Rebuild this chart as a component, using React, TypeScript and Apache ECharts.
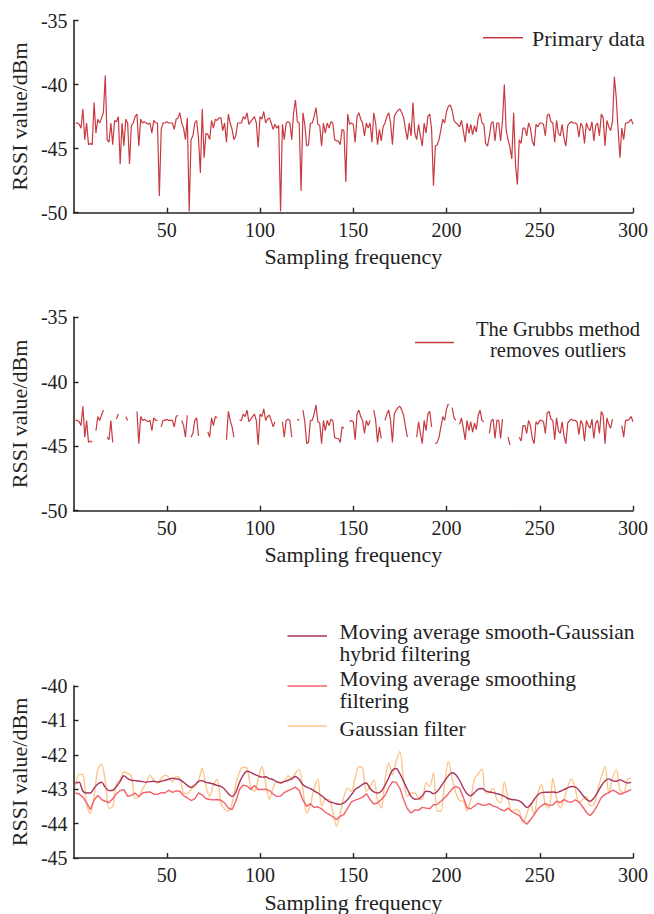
import React, { useEffect, useRef } from "react";
import * as echarts from "echarts";

const primaryData: number[] = [
  -43.0, -43.0, -43.1, -43.4, -41.9, -44.3, -43.0, -44.7, -44.6, -44.7,
  -41.4, -43.8, -42.7, -43.0, -42.6, -42.2, -39.3, -44.3, -44.5, -43.0,
  -44.7, -42.8, -42.9, -42.5, -46.2, -43.0, -44.8, -42.7, -43.0, -46.2,
  -43.2, -43.0, -42.5, -42.3, -44.8, -42.7, -43.0, -42.9, -43.0, -43.1,
  -43.0, -43.8, -42.8, -43.0, -43.0, -48.7, -43.5, -43.0, -43.0, -42.9,
  -43.0, -43.0, -43.0, -43.5, -42.7, -42.6, -42.2, -43.0, -43.4, -44.3,
  -42.6, -49.9, -44.3, -44.0, -43.0, -42.8, -44.2, -46.9, -41.9, -45.7,
  -43.8, -43.9, -44.3, -42.8, -43.4, -42.7, -42.8, -42.6, -42.6, -43.6,
  -43.0, -44.5, -42.3, -43.0, -43.5, -44.3, -44.0, -43.0, -43.0, -43.0,
  -42.5, -42.7, -42.2, -43.1, -42.9, -42.7, -42.5, -43.0, -44.9, -42.5,
  -42.7, -42.1, -43.0, -42.7, -42.6, -43.0, -43.5, -43.1, -43.4, -43.2,
  -49.9, -43.1, -44.3, -43.0, -42.9, -43.0, -44.3, -42.2, -41.2, -42.9,
  -43.0, -48.3, -42.2, -43.1, -44.8, -44.7, -43.0, -43.0, -42.5, -41.8,
  -43.1, -43.2, -44.8, -43.0, -43.8, -43.0, -43.4, -42.9, -43.0, -44.3,
  -44.4, -44.4, -44.7, -43.5, -43.6, -47.6, -42.3, -43.1, -43.0, -43.1,
  -44.5, -42.5, -42.2, -42.7, -43.0, -44.0, -43.0, -43.4, -43.0, -44.5,
  -42.2, -43.0, -44.7, -43.5, -44.4, -43.3, -43.0, -42.5, -42.2, -43.0,
  -44.7, -42.5, -42.2, -42.0, -41.9, -42.2, -42.6, -43.5, -44.3, -43.0,
  -44.0, -41.4, -43.8, -44.3, -43.1, -44.0, -44.8, -43.0, -43.8, -42.5,
  -42.3, -43.5, -47.9, -44.8, -44.7, -44.3, -43.5, -42.7, -43.0, -42.1,
  -41.7, -41.6, -42.0, -42.8, -43.0, -43.1, -43.3, -42.8, -43.6, -44.5,
  -43.0, -43.8, -43.1, -43.9, -43.2, -43.7, -42.6, -42.2, -43.0, -43.1,
  -44.6, -44.8, -44.0, -43.0, -42.9, -44.4, -43.0, -43.0, -44.4, -42.9,
  -40.0, -43.6, -44.3, -44.9, -45.8, -42.2, -46.3, -47.8, -44.3, -44.6,
  -43.4, -43.4, -44.0, -43.0, -43.4, -44.4, -44.8, -43.1, -43.3, -43.0,
  -43.0, -43.1, -44.0, -42.4, -42.3, -42.9, -43.0, -44.5, -42.8, -43.8,
  -44.0, -43.1, -44.2, -44.8, -43.2, -43.0, -42.9, -43.0, -43.0, -43.1,
  -44.1, -43.0, -43.3, -44.6, -43.0, -43.4, -43.6, -42.9, -44.4, -43.2,
  -43.0, -44.0, -42.3, -42.6, -44.8, -42.8, -43.3, -43.6, -42.9, -39.4,
  -41.0, -43.5, -45.7, -43.4, -44.3, -43.0, -43.0, -42.9, -42.7, -43.1,
];

// sample numbers removed by the Grubbs method (gaps in the second panel)
const grubbsRemoved: number[] = [
  11, 17, 22, 25, 26, 27, 30, 31, 32, 33, 46, 57, 62, 68, 69, 70, 71, 78, 79, 80,
  81, 87, 88, 109, 110, 111, 118, 119, 122, 146, 147, 160, 166, 180, 181, 182, 183,
  193, 202, 206, 221, 222, 231, 232, 235, 236, 237, 238, 290, 291, 292, 293,
];

// filtered curves, read at every second sample (1, 3, 5, ... 299)
const hybridData: number[] = [
  -42.82, -42.80, -43.06, -43.11, -43.11, -42.97, -42.85, -42.80, -42.94, -43.04,
  -43.03, -42.92, -42.77, -42.61, -42.69, -42.74, -42.75, -42.76, -42.78, -42.80,
  -42.78, -42.77, -42.79, -42.77, -42.74, -42.71, -42.68, -42.70, -42.72, -42.80,
  -42.89, -42.95, -42.88, -42.77, -42.75, -42.80, -42.82, -42.85, -42.89, -42.92,
  -43.00, -43.13, -43.21, -43.09, -42.80, -42.59, -42.48, -42.51, -42.57, -42.61,
  -42.65, -42.64, -42.69, -42.72, -42.79, -42.82, -42.78, -42.74, -42.69, -42.63,
  -42.72, -42.87, -42.94, -42.98, -43.05, -43.11, -43.19, -43.28, -43.36, -43.39,
  -43.43, -43.44, -43.40, -43.30, -43.16, -43.01, -42.94, -42.86, -42.82, -42.98,
  -43.08, -43.11, -43.06, -42.89, -42.67, -42.45, -42.40, -42.55, -42.78, -43.00,
  -43.21, -43.29, -43.28, -43.19, -43.06, -43.07, -43.13, -43.07, -42.92, -42.76,
  -42.61, -42.52, -42.58, -42.74, -42.96, -43.13, -43.19, -43.10, -43.00, -42.98,
  -43.05, -43.08, -43.10, -43.13, -43.16, -43.21, -43.27, -43.30, -43.31, -43.34,
  -43.42, -43.53, -43.46, -43.30, -43.16, -43.10, -43.09, -43.09, -43.08, -43.10,
  -43.06, -43.01, -42.96, -42.92, -42.93, -43.03, -43.17, -43.29, -43.35, -43.26,
  -43.09, -42.90, -42.76, -42.70, -42.75, -42.77, -42.73, -42.77, -42.82, -42.80,
];

const movingAvgData: number[] = [
  -43.11, -43.14, -43.23, -43.40, -43.59, -43.32, -43.18, -43.30, -43.35, -43.39,
  -43.28, -43.13, -43.04, -43.01, -43.21, -43.18, -43.11, -43.21, -43.11, -43.09,
  -43.08, -43.14, -43.15, -43.10, -43.11, -43.03, -43.09, -43.05, -43.06, -43.19,
  -43.25, -43.33, -43.28, -43.11, -43.17, -43.27, -43.30, -43.31, -43.30, -43.32,
  -43.40, -43.55, -43.59, -43.35, -43.01, -42.88, -42.91, -43.01, -42.89, -43.01,
  -43.01, -43.00, -43.04, -43.14, -43.21, -43.20, -43.10, -43.04, -43.00, -42.94,
  -43.04, -43.32, -43.50, -43.42, -43.53, -43.51, -43.57, -43.67, -43.73, -43.80,
  -43.88, -43.79, -43.73, -43.55, -43.37, -43.32, -43.28, -43.23, -43.13, -43.30,
  -43.43, -43.40, -43.30, -43.19, -42.96, -42.78, -42.80, -42.98, -43.30, -43.57,
  -43.69, -43.60, -43.61, -43.53, -43.55, -43.57, -43.45, -43.44, -43.35, -43.25,
  -43.13, -42.99, -42.92, -42.97, -43.23, -43.54, -43.57, -43.49, -43.41, -43.46,
  -43.47, -43.42, -43.49, -43.52, -43.59, -43.63, -43.55, -43.65, -43.71, -43.77,
  -43.91, -44.02, -43.89, -43.74, -43.57, -43.48, -43.41, -43.47, -43.46, -43.35,
  -43.39, -43.30, -43.36, -43.38, -43.31, -43.37, -43.51, -43.67, -43.77, -43.64,
  -43.46, -43.24, -43.15, -43.10, -43.03, -43.08, -43.15, -43.11, -43.06, -43.01,
];

const gaussianData: number[] = [
  -42.92, -42.57, -42.58, -43.45, -43.71, -43.21, -42.42, -42.27, -42.77, -43.56,
  -43.50, -42.84, -42.72, -42.50, -42.54, -42.61, -43.26, -43.23, -43.00, -42.82,
  -42.59, -42.74, -42.82, -42.70, -42.59, -42.65, -42.79, -42.63, -42.68, -43.11,
  -43.13, -43.01, -42.92, -42.77, -42.39, -42.92, -43.21, -42.87, -42.71, -43.40,
  -43.58, -43.64, -43.42, -42.87, -42.50, -42.36, -42.39, -42.92, -43.06, -42.72,
  -42.34, -42.82, -43.30, -42.97, -42.77, -42.80, -42.77, -42.61, -42.72, -42.53,
  -42.43, -43.01, -43.69, -43.45, -42.98, -42.71, -43.50, -43.29, -43.30, -43.64,
  -44.08, -43.70, -43.21, -42.97, -43.06, -42.68, -42.34, -42.39, -43.06, -42.92,
  -42.74, -43.30, -43.55, -42.72, -42.24, -42.58, -42.19, -41.90, -42.72, -43.21,
  -43.11, -43.11, -43.26, -43.30, -42.82, -42.92, -42.53, -43.64, -43.64, -42.82,
  -42.19, -42.68, -43.11, -43.33, -43.35, -43.64, -43.30, -42.70, -42.55, -42.41,
  -43.11, -43.09, -42.97, -43.30, -43.40, -42.80, -43.26, -43.64, -43.59, -43.64,
  -43.96, -43.74, -43.42, -43.74, -43.11, -42.87, -43.45, -43.55, -42.68, -43.26,
  -43.55, -43.30, -42.92, -42.71, -42.97, -43.40, -43.29, -43.22, -43.48, -43.45,
  -43.03, -42.65, -42.34, -43.11, -42.68, -42.43, -43.01, -43.11, -42.72, -42.68,
];

const xAxisName = "Sampling frequency";
const yAxisName = "RSSI value/dBm";
const legend1 = "Primary data";
const legend2 = "The Grubbs method\nremoves outliers";
const legend3 = [
  "Moving average smooth-Gaussian\nhybrid filtering",
  "Moving average smoothing\nfiltering",
  "Gaussian filter",
];

const FONT = '"Liberation Serif", "Times New Roman", serif';
const AXIS = "#262626";
const TEXT = "#222222";
const C_PRIMARY = "#C73A40";
const C_HYBRID = "#A8335F";
const C_MOVING = "#F2606B";
const C_GAUSS = "#FDC58A";

function makeX(gridIndex: number) {
  return {
    type: "value",
    gridIndex,
    min: 0,
    max: 300,
    interval: 50,
    name: xAxisName,
    nameLocation: "middle",
    nameGap: 33,
    nameTextStyle: { fontFamily: FONT, fontSize: 22, color: TEXT },
    axisLine: { show: true, lineStyle: { color: AXIS, width: 1.6 } },
    axisTick: { show: true, inside: true, length: 5, lineStyle: { color: AXIS, width: 1.4 } },
    axisLabel: { fontFamily: FONT, fontSize: 20, color: TEXT, margin: 7, showMinLabel: false },
    splitLine: { show: false },
  };
}

function makeY(gridIndex: number, min: number, max: number, interval: number) {
  return {
    type: "value",
    gridIndex,
    min,
    max,
    interval,
    name: yAxisName,
    nameLocation: "middle",
    nameGap: 40,
    nameTextStyle: { fontFamily: FONT, fontSize: 22, color: TEXT },
    axisLine: { show: true, lineStyle: { color: AXIS, width: 1.6 } },
    axisTick: { show: true, inside: true, length: 5, lineStyle: { color: AXIS, width: 1.4 } },
    axisLabel: { fontFamily: FONT, fontSize: 20, color: TEXT, margin: 6 },
    splitLine: { show: false },
  };
}

function legendItem(
  x1: number, x2: number, y: number, color: string, text: string,
  tx: number, ty: number, align: string, fontSize: number, lineHeight: number
) {
  return [
    { type: "line", shape: { x1, y1: y, x2, y2: y }, style: { stroke: color, lineWidth: 1.5 } },
    {
      type: "text",
      x: tx,
      y: ty,
      style: {
        text,
        fontFamily: FONT,
        fontSize,
        fill: TEXT,
        align,
        verticalAlign: "middle",
        lineHeight,
      },
    },
  ];
}

export default function App() {
  const ref = useRef<HTMLDivElement>(null);
  useEffect(() => {
    const chart = echarts.init(ref.current as HTMLDivElement, null, { renderer: "svg" });
    const removed = new Set(grubbsRemoved);
    const smoothX = hybridData.map((_, i) => 2 * i + 1);
    chart.setOption({
      animation: false,
      backgroundColor: "#ffffff",
      grid: [
        { left: 72, top: 20.5, width: 561, height: 192.2 },
        { left: 72, top: 317.3, width: 561, height: 193.4 },
        { left: 72, top: 686, width: 561, height: 172.7 },
      ],
      xAxis: [makeX(0), makeX(1), makeX(2)],
      yAxis: [makeY(0, -50, -35, 5), makeY(1, -50, -35, 5), makeY(2, -45, -40, 1)],
      series: [
        {
          name: "Primary data",
          type: "line",
          xAxisIndex: 0,
          yAxisIndex: 0,
          data: primaryData.map((v, i) => [i + 1, v]),
          showSymbol: false,
          symbol: "none",
          lineStyle: { color: C_PRIMARY, width: 1.2 },
        },
        {
          name: "The Grubbs method removes outliers",
          type: "line",
          xAxisIndex: 1,
          yAxisIndex: 1,
          data: primaryData.map((v, i) => [i + 1, removed.has(i + 1) ? "-" : v]),
          connectNulls: false,
          showSymbol: false,
          symbol: "none",
          lineStyle: { color: C_PRIMARY, width: 1.2 },
        },
        {
          name: "Gaussian filter",
          type: "line",
          xAxisIndex: 2,
          yAxisIndex: 2,
          data: gaussianData.map((v, i) => [smoothX[i], v]),
          showSymbol: false,
          symbol: "none",
          smooth: 0.3,
          lineStyle: { color: C_GAUSS, width: 1.4 },
        },
        {
          name: "Moving average smoothing filtering",
          type: "line",
          xAxisIndex: 2,
          yAxisIndex: 2,
          data: movingAvgData.map((v, i) => [smoothX[i], v]),
          showSymbol: false,
          symbol: "none",
          lineStyle: { color: C_MOVING, width: 1.4 },
        },
        {
          name: "Moving average smooth-Gaussian hybrid filtering",
          type: "line",
          xAxisIndex: 2,
          yAxisIndex: 2,
          data: hybridData.map((v, i) => [smoothX[i], v]),
          showSymbol: false,
          symbol: "none",
          smooth: 0.3,
          lineStyle: { color: C_HYBRID, width: 1.4 },
        },
      ],
      graphic: [
        ...legendItem(483, 523, 37.7, C_PRIMARY, legend1, 532, 38, "left", 22, 22),
        ...legendItem(415, 454, 342.5, C_PRIMARY, legend2, 558, 339.5, "center", 20.5, 21),
        ...legendItem(287.5, 327, 636, C_HYBRID, legend3[0], 339.6, 642.5, "left", 21.5, 22),
        ...legendItem(287.5, 327, 686, C_MOVING, legend3[1], 339.6, 690, "left", 21.5, 22),
        ...legendItem(287.5, 327, 726, C_GAUSS, legend3[2], 339.6, 728.5, "left", 21.5, 22),
      ],
    });
    return () => chart.dispose();
  }, []);
  return (
    <div
      ref={ref}
      style={{ position: "fixed", left: 0, top: 0, width: 654, height: 914, background: "#fff" }}
    />
  );
}
